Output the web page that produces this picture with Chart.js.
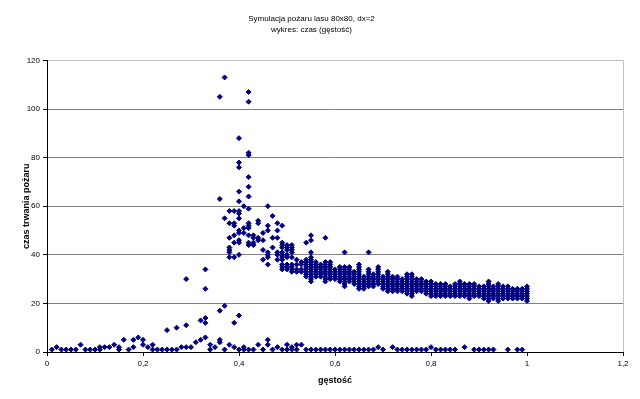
<!DOCTYPE html>
<html>
<head>
<meta charset="utf-8">
<script src="https://cdn.jsdelivr.net/npm/chart.js@4.4.1/dist/chart.umd.min.js"></script>
<style>
  html, body { margin: 0; padding: 0; background: #fff; }
  #wrap { width: 640px; height: 399px; }
</style>
</head>
<body>
<div id="wrap"><canvas id="fireChart" width="640" height="399"></canvas></div>
<script>
// Symulacja pożaru lasu - czas trwania pożaru w zależności od gęstości

// runs where the fire died out almost at once: [gęstość, czas]
const shortRuns = [
    [0.01,1],[0.02,2],[0.03,1],[0.04,1],[0.05,1],[0.06,1],[0.07,3],[0.08,1],[0.09,1],[0.10,1],
    [0.11,1],[0.11,2],[0.12,2],[0.13,2],[0.14,3],[0.15,1],[0.15,2],[0.16,5],[0.17,1],[0.18,2],
    [0.18,5],[0.19,6],[0.20,3],[0.20,5],[0.21,2],[0.22,1],[0.22,3],[0.23,1],[0.24,1],[0.25,1],
    [0.26,1],[0.27,1],[0.28,2],[0.29,2],[0.30,2],[0.31,4],[0.32,5],[0.33,6],[0.34,1],[0.34,3],
    [0.35,2],[0.36,4],[0.36,5],[0.37,1],[0.38,3],[0.39,2],[0.40,1],[0.41,1],[0.41,2],[0.42,1],
    [0.43,1],[0.44,3],[0.45,1],[0.46,3],[0.46,5],[0.47,1],[0.48,2],[0.49,1],[0.50,1],[0.50,3],
    [0.51,1],[0.51,2],[0.52,1],[0.52,3],[0.53,3],[0.54,1],[0.55,1],[0.56,1],[0.57,1],[0.58,1],
    [0.59,1],[0.60,1],[0.61,1],[0.62,1],[0.63,1],[0.64,1],[0.65,1],[0.66,1],[0.67,1],[0.68,1],
    [0.69,2],[0.70,1],[0.72,2],[0.73,1],[0.74,1],[0.75,1],[0.76,1],[0.77,1],[0.78,1],[0.79,1],
    [0.80,2],[0.81,1],[0.82,1],[0.83,1],[0.84,1],[0.85,1],[0.87,2],[0.89,1],[0.90,1],[0.91,1],
    [0.92,1],[0.93,1],[0.96,1],[0.98,1],[0.99,1]
];

// runs below the critical density that still spread a little
const risingRuns = [
    [0.25,9],[0.27,10],[0.29,11],[0.29,30],[0.32,13],[0.33,12],[0.33,14],[0.33,26],[0.33,34],
    [0.36,17],[0.37,19],[0.39,12],[0.40,15]
];

// around the critical density, one list of times per density
const criticalDensity = [0.36, 0.37, 0.38, 0.39, 0.40, 0.41, 0.42, 0.43, 0.44, 0.45,
                         0.46, 0.47, 0.48, 0.49, 0.50, 0.51, 0.52, 0.53, 0.54, 0.55];
const criticalTimes = [
    [63,105],
    [55,113],
    [58,53,47,43,42,41,39],
    [58,53,52,48,45,39],
    [88,78,76,66,62,58,57,55,50,49,46,45,40],
    [60,51,49],
    [107,103,82,81,72,68,64,59,53,52,51,48,45,44],
    [48,47,45,44],
    [54,53,47,46],
    [49,46,42,38],
    [60,52,50,41,40,39,36],
    [56,47,43],
    [53,50,47,41,40,38],
    [52,45,44,43,41,40,39,38,36,35,34],
    [44,43,42,40,39,36,35,34],
    [44,43,42,41,39,36,35,34,33],
    [38,36,34,33],
    [37,36,34,33],
    [45,38,37,36,35,34,33,32,31],
    [48,46,41,39,38,37,36,35,34,33,32,31,30,29]
];

// dense forests: the fire always burns through
const denseDensity = [0.56, 0.57, 0.58, 0.59, 0.60, 0.61, 0.62, 0.63, 0.64, 0.65,
                      0.66, 0.67, 0.68, 0.69, 0.70, 0.71, 0.72, 0.73, 0.74, 0.75,
                      0.76, 0.77, 0.78, 0.79, 0.80, 0.81, 0.82, 0.83, 0.84, 0.85,
                      0.86, 0.87, 0.88, 0.89, 0.90, 0.91, 0.92, 0.93, 0.94, 0.95,
                      0.96, 0.97, 0.98, 0.99, 1.00];
const denseTimes = [
    [31,32,33,34,35,36,37],
    [31,32,33,34,35,36],
    [29,30,31,32,33,34,35,36,37,47],
    [30,31,32,33,34,35,36,37],
    [30,31,32,33,34],
    [29,30,31,32,33,34,35],
    [27,28,29,30,31,32,33,34,35,41],
    [29,30,31,32,33,34,35],
    [28,29,30,31,32,33],
    [26,27,28,29,30,31,32,33,34,35,36],
    [26,27,28,29,30,31],
    [27,28,29,30,31,32,33,34,41],
    [27,28,29,30,31,32],
    [28,29,30,31,32,33,34,35],
    [26,27,28,29,30,31],
    [25,26,27,28,29,30,31,32,33],
    [25,26,27,28,29,30,31],
    [25,26,27,28,29,30,31],
    [25,26,27,28,29,30],
    [24,25,26,27,28,29,30,31,32],
    [23,24,25,26,27,28,29,30,31,32],
    [25,26,27,28,29,30],
    [25,26,27,28,29,30],
    [24,25,26,27,28,29],
    [23,24,25,26,27,28,29],
    [23,24,25,26,27,28],
    [23,24,25,26,27,28],
    [23,24,25,26,27,28],
    [23,24,25,26,27],
    [23,24,25,26,27,28],
    [23,24,25,26,27,28,29],
    [23,24,25,26,27,28],
    [22,23,24,25,26,27,28],
    [23,24,25,26,27,28],
    [23,24,25,26,27],
    [22,23,24,25,26,27],
    [21,22,23,24,25,26,27,28,29],
    [22,23,24,25,26,27],
    [21,22,23,24,25,26,27,28],
    [22,23,24,25,26,27],
    [22,23,24,25,26,27],
    [22,23,24,25,26],
    [22,23,24,25,26],
    [22,23,24,25,26],
    [21,22,23,24,25,26,27]
];

const xTicks = [0, 0.2, 0.4, 0.6, 0.8, 1, 1.2];
const yTicks = [0, 20, 40, 60, 80, 100, 120];

function columnsToPoints(densities, times) {
    const pts = [];
    densities.forEach((d, i) => {
        times[i].forEach(t => pts.push({ x: d, y: t }));
    });
    return pts;
}

const points = []
    .concat(shortRuns.map(p => ({ x: p[0], y: p[1] })))
    .concat(risingRuns.map(p => ({ x: p[0], y: p[1] })))
    .concat(columnsToPoints(criticalDensity, criticalTimes))
    .concat(columnsToPoints(denseDensity, denseTimes));

function plFormat(v) {
    return String(Math.round(v * 10) / 10).replace('.', ',');
}

// light grey frame on the right side of the plot area
const plotFrame = {
    id: 'plotFrame',
    beforeDatasetsDraw(chart) {
        const a = chart.chartArea;
        const c = chart.ctx;
        c.save();
        c.strokeStyle = '#c0c0c0';
        c.lineWidth = 1;
        c.beginPath();
        c.moveTo(Math.round(a.right) + 0.5, a.top);
        c.lineTo(Math.round(a.right) + 0.5, a.bottom);
        c.stroke();
        c.restore();
    }
};

const FONT = "'Liberation Sans', Arial, sans-serif";

new Chart(document.getElementById('fireChart'), {
    type: 'scatter',
    data: {
        datasets: [{
            label: 'czas',
            data: points,
            pointStyle: 'rectRot',
            pointRadius: 2.5,
            pointHoverRadius: 2.5,
            backgroundColor: '#000080',
            borderColor: '#000080',
            borderWidth: 1
        }]
    },
    options: {
        responsive: false,
        animation: false,
        events: [],
        layout: { padding: { top: 0, right: 17, left: 0, bottom: 0 } },
        plugins: {
            legend: { display: false },
            tooltip: { enabled: false },
            title: {
                display: true,
                text: ['Symulacja pożaru lasu 80x80, dx=2', 'wykres: czas (gęstość)'],
                color: '#000',
                font: { family: FONT, size: 8, weight: 'normal', lineHeight: 1.4 },
                padding: { top: 13, bottom: 25 }
            }
        },
        scales: {
            x: {
                type: 'linear',
                min: 0,
                max: 1.2,
                afterFit: s => { s.height = 47; },
                afterBuildTicks: s => { s.ticks = xTicks.map(v => ({ value: v })); },
                ticks: {
                    color: '#000',
                    font: { family: FONT, size: 8 },
                    padding: 3,
                    callback: v => plFormat(v)
                },
                grid: {
                    drawOnChartArea: false,
                    drawTicks: true,
                    tickLength: 4,
                    tickColor: '#000'
                },
                border: { display: true, color: '#000', width: 1 },
                title: {
                    display: true,
                    text: 'gęstość',
                    color: '#000',
                    font: { family: FONT, size: 9, weight: 'bold' },
                    padding: { top: 0, bottom: 13 }
                }
            },
            y: {
                type: 'linear',
                min: 0,
                max: 120,
                afterFit: s => { s.width = 47; },
                afterBuildTicks: s => { s.ticks = yTicks.map(v => ({ value: v })); },
                ticks: {
                    color: '#000',
                    font: { family: FONT, size: 8 },
                    padding: 3
                },
                grid: {
                    color: c => (c.tick && c.tick.value === 120) ? '#c0c0c0' : '#808080',
                    tickLength: 4,
                    tickColor: '#000'
                },
                border: { display: true, color: '#000', width: 1 },
                title: {
                    display: true,
                    text: 'czas trwania pożaru',
                    color: '#000',
                    font: { family: FONT, size: 9, weight: 'bold' },
                    padding: { top: 21, bottom: 0 }
                }
            }
        }
    },
    plugins: [plotFrame]
});
</script>
</body>
</html>
